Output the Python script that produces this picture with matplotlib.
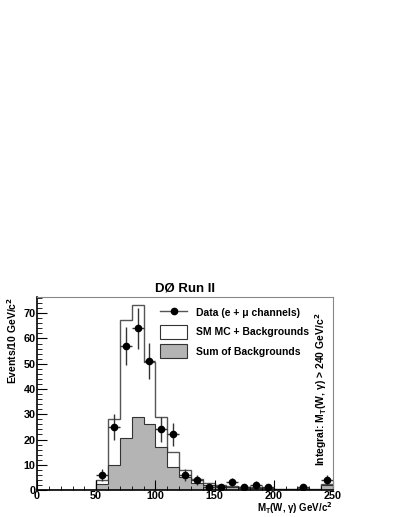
import numpy as np
import matplotlib
matplotlib.use("Agg")
import matplotlib.pyplot as plt
from matplotlib.patches import Patch
from matplotlib.lines import Line2D

plt.rcParams['font.family'] = ['Liberation Sans', 'DejaVu Sans']
plt.rcParams['font.weight'] = 'bold'

# bin edges 0..250 in 10 GeV steps
edges = np.arange(0, 260, 10)
# SM MC + backgrounds (per bin)
sm_mc = [0, 0, 0, 0, 0, 4, 28, 67.5, 73.3, 50.5, 29, 15.2, 7.8, 4.3, 2.6, 1.9,
         1.6, 1.2, 1.1, 0.9, 0.5, 0.5, 0.7, 0.4, 2.5]
# sum of backgrounds
bkg = [0, 0, 0, 0, 0, 2.2, 10, 20.6, 28.9, 26.2, 17.2, 9.1, 5.1, 2.9, 2.0, 1.4,
       1.2, 0.9, 0.8, 0.6, 0.3, 0.3, 0.5, 0.2, 2.0]
# data points (bin centre, counts)
data_x = [55, 65, 75, 85, 95, 105, 115, 125, 135, 145, 155, 165, 175, 185, 195, 225, 245]
data_y = [6, 25, 57, 64, 51, 24, 22, 6, 4, 1, 1, 3, 1, 2, 1, 1, 4]

fig = plt.figure(figsize=(4.0, 5.17), dpi=100)
ax = fig.add_axes([0.0925, 0.0522, 0.74, 0.3737])

ax.stairs(sm_mc, edges, fill=True, facecolor='white', edgecolor='none')
ax.stairs(sm_mc, edges, color='#555555', lw=1.0)
ax.stairs(bkg, edges, fill=True, facecolor='#b4b4b4', edgecolor='none')
ax.stairs(bkg, edges, color='#333333', lw=0.8)

# poisson errors on data
yerr = np.sqrt(data_y)
ax.errorbar(data_x, data_y, xerr=5, yerr=yerr, fmt='o', color='black',
            ms=4.5, ecolor='#333333', elinewidth=1.0, capsize=0)

ax.set_xlim(0, 250)
ax.set_ylim(0, 76.5)
ax.set_xticks(np.arange(0, 251, 50))
ax.set_xticks(np.arange(0, 251, 10), minor=True)
ax.set_yticks(np.arange(0, 71, 10))
ax.set_yticks(np.arange(0, 77, 2), minor=True)
ax.tick_params(which='both', direction='in', top=False, right=False,
               labelsize=7.8)
ax.tick_params(which='major', length=7, width=0.8, pad=1)
ax.tick_params(axis='x', which='major', pad=0.5)
ax.tick_params(which='minor', length=3.5, width=0.6)
ax.tick_params(axis='x', which='minor', length=3)
for lab in ax.get_xticklabels() + ax.get_yticklabels():
    lab.set_fontweight('bold')

ax.spines['left'].set_linewidth(1.2)
ax.spines['bottom'].set_linewidth(1.2)
ax.spines['top'].set_color('#888888')
ax.spines['right'].set_color('#888888')
ax.spines['top'].set_linewidth(0.8)
ax.spines['right'].set_linewidth(0.8)

ax.set_title('DØ Run II', fontsize=9.5, fontweight='bold', pad=4)
ax.set_ylabel('Events/10 GeV/c$^2$', fontsize=7.5, fontweight='bold', loc='top', labelpad=3)
# x label sits right under the tick labels, flush with the right edge of the frame
fig.text(0.8325, 0.002, r'M$_\mathregular{T}$(W, γ) GeV/c$^2$', fontsize=7,
         fontweight='bold', ha='right', va='bottom')

ax.text(0.985, 0.52, r'Integral: M$_\mathregular{T}$(W, γ) > 240 GeV/c$^2$',
        transform=ax.transAxes, rotation=90, ha='right', va='center',
        fontsize=7.5, fontweight='bold')

handles = [
    Line2D([0], [0], color='#555555', lw=1.0, marker='o', ms=4.5,
           markerfacecolor='black', markeredgecolor='black'),
    Patch(facecolor='white', edgecolor='#333333', lw=0.8),
    Patch(facecolor='#b4b4b4', edgecolor='#333333', lw=0.8),
]
labels = ['Data (e + μ channels)', 'SM MC + Backgrounds', 'Sum of Backgrounds']
leg = ax.legend(handles, labels, loc='upper right', bbox_to_anchor=(0.95, 1.0),
                frameon=False, handlelength=2.6, handleheight=1.6,
                labelspacing=0.55, prop={'weight': 'bold', 'size': 7.5})

fig.savefig('out.png', dpi=100)
